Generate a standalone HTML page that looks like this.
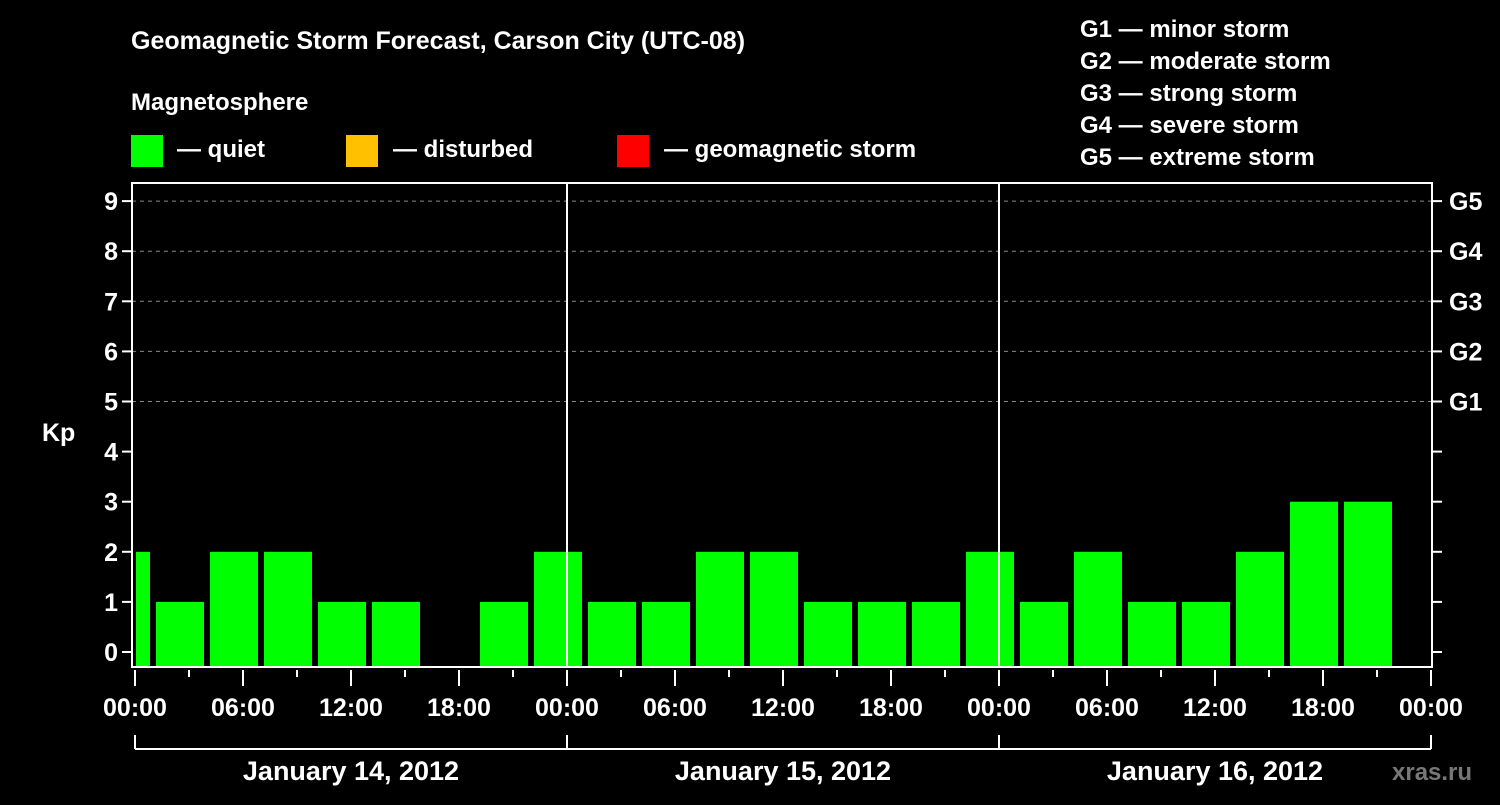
<!DOCTYPE html>
<html><head><meta charset="utf-8">
<style>
html,body{margin:0;padding:0;background:#000;}
svg text{font-family:"Liberation Sans",Arial,sans-serif;font-weight:bold;fill:#fff;}
</style></head>
<body>
<svg id="chart" width="1500" height="800" viewBox="0 0 1500 800" xmlns="http://www.w3.org/2000/svg">
<rect width="1500" height="800" fill="#000"/>
<text x="131" y="49" font-size="25">Geomagnetic Storm Forecast, Carson City (UTC-08)</text>
<text x="131" y="110" font-size="24">Magnetosphere</text>
<g><rect x="131" y="135" width="32" height="32" fill="#00ff00"/><text x="177" y="157" font-size="24">— quiet</text></g>
<g><rect x="346" y="135" width="32" height="32" fill="#ffc000"/><text x="393" y="157" font-size="24">— disturbed</text></g>
<g><rect x="617" y="135" width="32" height="32" fill="#ff0000"/><text x="664" y="157" font-size="24">— geomagnetic storm</text></g>
<g font-size="24">
<text x="1080" y="37">G1 — minor storm</text>
<text x="1080" y="69">G2 — moderate storm</text>
<text x="1080" y="101">G3 — strong storm</text>
<text x="1080" y="133">G4 — severe storm</text>
<text x="1080" y="165">G5 — extreme storm</text>
</g>
<text x="42" y="441" font-size="25">Kp</text>
<text x="1392" y="780" font-size="24" fill="#777" style="fill:#777">xras.ru</text>
<g id="grid"></g>
<g id="bars"></g>
<g id="axes"></g>
</svg>
<script>
const kpValues = [2,1,2,2,1,1,0,1,2,1,1,2,2,1,1,1,2,1,2,1,1,2,3,3];
const yTicks = [0,1,2,3,4,5,6,7,8,9];
const gLabels = ["G1","G2","G3","G4","G5"];
const hourLabels = ["00:00","06:00","12:00","18:00"];
const dayLabels = ["January 14, 2012","January 15, 2012","January 16, 2012"];

const NS="http://www.w3.org/2000/svg";
const plotL=132, plotR=1432, plotT=183, plotB=667;
const x0=135, pxPerHour=18;
const y0=652, pxPerKp=50.1;
function xs(h){return x0+h*pxPerHour;}
function ys(v){return y0-v*pxPerKp;}
function mk(tag,attrs,parent){const e=document.createElementNS(NS,tag);for(const k in attrs)e.setAttribute(k,attrs[k]);parent.appendChild(e);return e;}
const grid=document.getElementById('grid'),bars=document.getElementById('bars'),axes=document.getElementById('axes');

// dashed grid lines for G levels
for(let i=0;i<gLabels.length;i++){
  const y=ys(5+i);
  const l=mk('line',{x1:plotL,x2:plotR,y1:y,y2:y,stroke:'#888','stroke-dasharray':'4,4','stroke-width':1},grid);
  
  
  const t=mk('text',{x:plotR+17,y:y+9,'font-size':25},axes);
  t.textContent=gLabels[i];
  
  
}
// bars: slot k starts at hour 3*(k-1)+1 (first clipped)
kpValues.forEach((v,k)=>{
  if(v<=0)return;
  const c=(k-1)*3+2.5;
  let xa=xs(c)-24, xb=xs(c)+24;
  if(xa<plotL+4)xa=plotL+4;
  const r=mk('rect',{x:xa,y:ys(v),width:xb-xa,height:plotB-ys(v),fill:'#00ff00'},bars);
  
  
});
// day separators
for(let d=1;d<dayLabels.length;d++){
  const l=mk('line',{x1:xs(24*d),x2:xs(24*d),y1:plotT,y2:plotB,stroke:'#fff','stroke-width':2},axes);
  
  
}
// frame
const fr=mk('rect',{x:plotL,y:plotT,width:plotR-plotL,height:plotB-plotT,fill:'none',stroke:'#fff','stroke-width':2},axes);


// y ticks
yTicks.forEach(v=>{
  const y=ys(v);
  mk('line',{x1:plotL-10,x2:plotL,y1:y,y2:y,stroke:'#fff','stroke-width':2},axes);
  mk('line',{x1:plotR,x2:plotR+10,y1:y,y2:y,stroke:'#fff','stroke-width':2},axes);
  const t=mk('text',{x:plotL-14,y:y+9,'font-size':25,'text-anchor':'end'},axes);
  t.textContent=v;
  
  
});
// x ticks
for(let h=0;h<=72;h+=3){
  const major=h%6===0;
  mk('line',{x1:xs(h),x2:xs(h),y1:plotB+3,y2:plotB+(major?19:10),stroke:'#fff','stroke-width':2},axes);
  if(major){
    const t=mk('text',{x:xs(h),y:716,'font-size':25,'text-anchor':'middle'},axes);
    t.textContent=hourLabels[(h/6)%4];
    
    
  }
}
// day bracket
mk('line',{x1:xs(0),x2:xs(72),y1:749,y2:749,stroke:'#fff','stroke-width':2},axes);
for(let d=0;d<=dayLabels.length;d++){
  mk('line',{x1:xs(24*d),x2:xs(24*d),y1:735,y2:749,stroke:'#fff','stroke-width':2},axes);
}
dayLabels.forEach((s,d)=>{
  const t=mk('text',{x:xs(24*d+12),y:780,'font-size':27,'text-anchor':'middle'},axes);
  t.textContent=s;
  
  
});
</script>
</body></html>
